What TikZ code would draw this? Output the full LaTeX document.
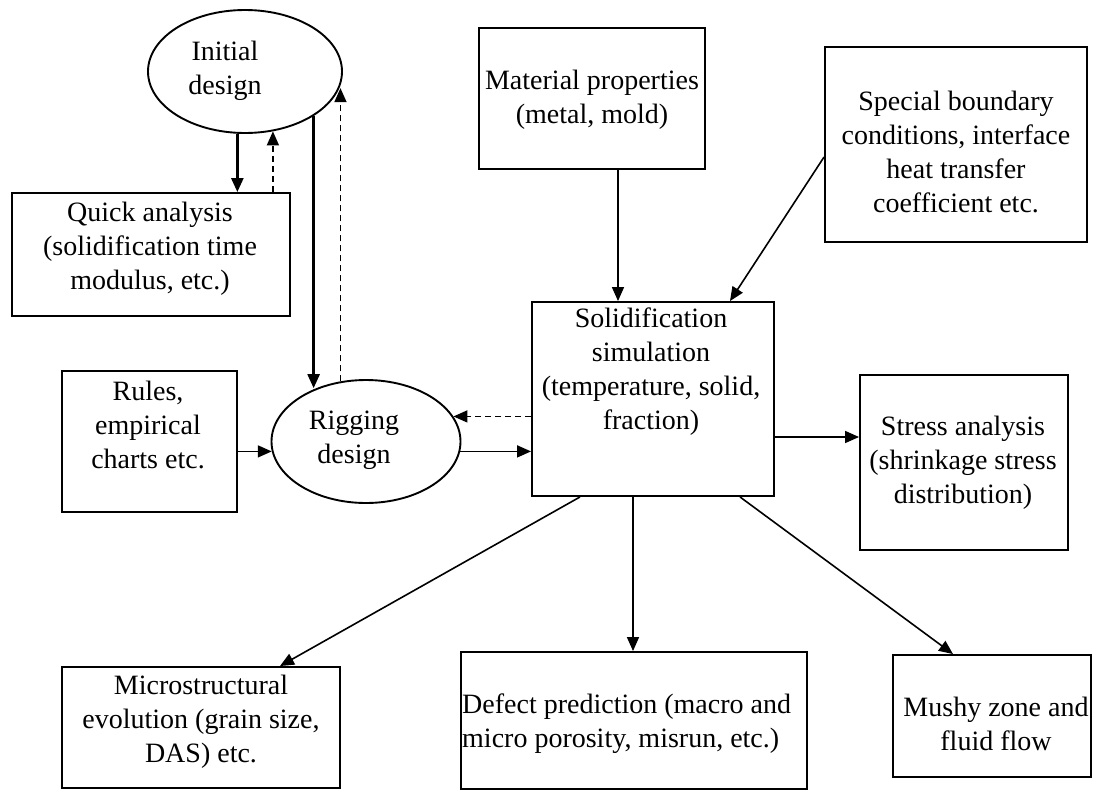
\documentclass[tikz,border=0pt]{standalone}
\usepackage{fontspec}
\setmainfont{Liberation Serif}
\usetikzlibrary{shapes.geometric,arrows.meta}
\newcommand\dfont{\fontsize{28}{34}\selectfont}
\begin{document}
\begin{tikzpicture}[x=1pt,y=-1pt,
 box/.style={draw,line width=1.9pt,inner sep=0pt,rectangle},
 oval/.style={draw,ellipse,line width=1.9pt,inner sep=0pt},
 txt/.style={align=center,font=\dfont,inner sep=0pt},
 arr/.style={-{Triangle[length=14pt,width=12pt]},line width=1.6pt},
 darr/.style={arr,dash pattern=on 6pt off 4pt}]
\useasboundingbox[fill=white] (0,0) rectangle (1093,790);

% shapes
\node[oval,minimum width=194pt,minimum height=123pt] (ini) at (245,71.5) {};
\node[box,minimum width=278pt,minimum height=123pt] (qa) at (151,254.5) {};
\node[box,minimum width=226pt,minimum height=141pt] (mat) at (592,98.5) {};
\node[box,minimum width=262pt,minimum height=195pt] (spec) at (956,144.5) {};
\node[box,minimum width=242pt,minimum height=194pt] (sol) at (653,399) {};
\node[box,minimum width=175pt,minimum height=141pt] (rules) at (149.5,441.5) {};
\node[oval,minimum width=189pt,minimum height=123pt] (rig) at (366,441.5) {};
\node[box,minimum width=208pt,minimum height=175pt] (str) at (964,462.5) {};
\node[box,minimum width=278pt,minimum height=121pt] (mic) at (201,727.5) {};
\node[box,minimum width=346pt,minimum height=137pt] (def) at (634,720.5) {};
\node[box,minimum width=198pt,minimum height=122pt] (mush) at (992,716) {};

% texts
\node[txt] (tini) at (225,71) {Initial\\design};
\node[txt] (tqa) at (150,249) {Quick analysis\\(solidification time\\modulus, etc.)};
\node[txt] (tmat) at (592,99.5) {Material properties\\(metal, mold)};
\node[txt] (tspec) at (956,151.5) {Special boundary\\conditions, interface\\heat transfer\\coefficient etc.};
\node[txt] (tsol) at (651,371.5) {Solidification\\simulation\\(temperature, solid,\\fraction)};
\node[txt] (trules) at (148,425) {Rules,\\empirical\\charts etc.};
\node[txt] (trig) at (354,440) {Rigging\\design};
\node[txt] (tstr) at (963,463) {Stress analysis\\(shrinkage stress\\distribution)};
\node[txt] (tmic) at (201,722) {Microstructural\\evolution (grain size,\\DAS) etc.};
\node[txt,align=left,anchor=west] (tdef) at (462,723.5) {Defect prediction (macro and\\micro porosity, misrun, etc.)};
\node[txt] (tmush) at (996,724) {Mushy zone and\\fluid flow};

% connectors
\draw[arr,line width=2.6pt] (ini.-97) -- (ini.-97 |- qa.north);
\draw[darr] (ini.-65 |- qa.north) -- (ini.-65);
\draw[arr,line width=2.4pt] (ini.-33) -- (ini.-33 |- rig.133);
\draw[darr] (rig.113) -- (rig.113 |- ini.-10);
\draw[arr] (rig.186 -| rules.east) -- (rig.186);
\draw[arr] (rig.-6) -- (rig.-6 -| sol.west);
\draw[darr] (rig.16 -| sol.west) -- (rig.16);
\draw[arr] ([xshift=26pt]mat.south) -- ([xshift=26pt]mat.south |- sol.north);
\draw[arr] ([yshift=-12.5pt]spec.west) -- ([xshift=77pt]sol.north);
\draw[arr] (sol.east |- 0,437) -- (str.west |- 0,437);
\draw[arr] (sol.south -| 580,0) -- ([xshift=79pt]mic.north);
\draw[arr] (sol.south -| 633,0) -- (def.north -| 633,0);
\draw[arr] (sol.south -| 740,0) -- (mush.north -| 953,0);
\end{tikzpicture}
\end{document}
